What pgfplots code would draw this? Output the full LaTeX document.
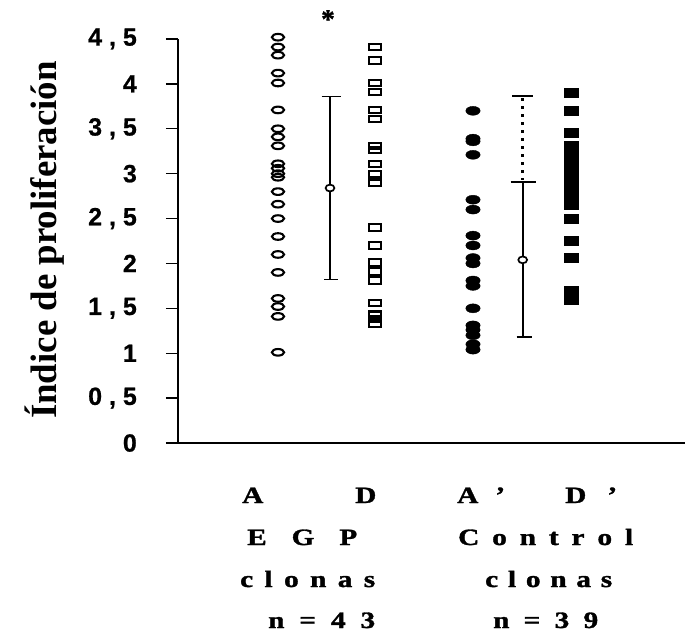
\documentclass[border=0pt]{standalone}
\usepackage{fontspec}
\setmainfont{Liberation Serif}
\newfontfamily\heavyserif{Liberation Serif Bold}[FakeBold=1.3]
\newfontfamily\heavysans{Liberation Sans Bold}[FakeBold=0.8]
\usepackage{pgfplots}
\pgfplotsset{compat=1.18}
\newcommand{\cs}{\hspace{0.28em}}
\newcommand{\sx}[2]{\scalebox{1.25}[1]{\makebox[#1][s]{#2}}}
\begin{document}
\begin{tikzpicture}
\path[use as bounding box] (-178bp,-195bp) rectangle (518bp,443bp);
\begin{axis}[
  at={(0,0)}, anchor=south west,
  scale only axis, width=507bp, height=404bp,
  xmin=0, xmax=507, ymin=0, ymax=4.5,
  axis lines=left, axis line style={-, line width=1.3bp},
  xtick=\empty,
  ytick={0,0.5,1,1.5,2,2.5,3,3.5,4,4.5},
  yticklabels={0,{0\cs,\cs5},1,{1\cs,\cs5},2,{2\cs,\cs5},3,{3\cs,\cs5},4,{4\cs,\cs5}},
  tick align=outside, major tick length=12bp,
  tick style={line width=1.3bp, black},
  yticklabel style={font=\heavysans\fontsize{25}{25}\selectfont, anchor=east, inner sep=0pt, xshift=-29bp},
  clip=false,
]
% EGP A (open circles)
\addplot[only marks, mark=o, mark size=3.3bp, mark options={xscale=1.85, line width=2.1bp}] coordinates {
(100,4.52)(100,4.41)(100,4.32)(100,4.12)(100,4.01)(100,3.71)(100,3.50)(100,3.41)(100,3.31)
(100,3.11)(100,3.06)(100,3.00)(100,2.96)(100,2.80)(100,2.66)(100,2.50)(100,2.30)(100,2.10)
(100,1.90)(100,1.61)(100,1.52)(100,1.41)(100,1.01)};
% EGP D (open squares)
\addplot[only marks, mark=square, mark size=3.1bp, mark options={xscale=1.95, line width=2.1bp}] coordinates {
(197,4.41)(197,4.26)(197,4.01)(197,3.91)(197,3.71)(197,3.61)(197,3.31)(197,3.26)(197,3.11)
(197,3.00)(197,2.90)(197,2.40)(197,2.20)(197,2.01)(197,1.91)(197,1.81)(197,1.56)(197,1.43)
(197,1.38)(197,1.33)};
% Control A' (filled circles)
\addplot[only marks, mark=*, mark size=4.5bp, mark options={xscale=1.6, fill=black, draw=black}] coordinates {
(295,3.70)(295,3.39)(295,3.36)(295,3.21)(295,2.71)(295,2.60)(295,2.31)(295,2.20)(295,2.06)
(295,2.00)(295,1.81)(295,1.75)(295,1.50)(295,1.31)(295,1.26)(295,1.20)(295,1.10)(295,1.04)};
% Control D' (filled squares)
\addplot[only marks, mark=square*, mark size=4.5bp, mark options={xscale=1.6, fill=black, draw=black}] coordinates {
(393,3.90)(393,3.70)(393,3.46)(393,3.31)(393,3.28)(393,3.24)(393,3.19)(393,3.16)(393,3.05)
(393,3.02)(393,2.95)(393,2.87)(393,2.78)(393,2.72)(393,2.65)(393,2.50)(393,2.25)(393,2.06)
(393,1.70)(393,1.65)(393,1.60)};
% error bar EGP
\addplot[line width=1.7bp] coordinates {(152,1.82)(152,3.86)};
\addplot[line width=1.7bp] coordinates {(143.7,3.86)(162.7,3.86)};
\addplot[line width=1.7bp] coordinates {(146.3,1.82)(159.7,1.82)};
\addplot[only marks, mark=*, mark size=3.4bp, mark options={xscale=1.3, fill=white, draw=black, line width=1.7bp}] coordinates {(152,2.84)};
% error bar Control
\addplot[line width=3bp, dash pattern=on 3bp off 5bp] coordinates {(344.7,3.84)(344.7,2.93)};
\addplot[line width=1.7bp] coordinates {(344.7,1.18)(344.7,2.91)};
\addplot[line width=1.7bp] coordinates {(334,3.865)(355.3,3.865)};
\addplot[line width=1.7bp] coordinates {(332.7,2.91)(357.7,2.91)};
\addplot[line width=1.7bp] coordinates {(338.7,1.18)(354.3,1.18)};
\addplot[only marks, mark=*, mark size=3.4bp, mark options={xscale=1.3, fill=white, draw=black, line width=1.7bp}] coordinates {(344.7,2.04)};
\end{axis}
% star
\node[anchor=base, inner sep=0pt, font=\heavyserif\fontsize{27}{27}\selectfont] at (150bp,415bp) {*};
% y label
\node[rotate=90, anchor=base, inner sep=0pt, font=\bfseries\fontsize{37}{37}\selectfont] at (-121bp,203bp) {Índice de proliferación};
% category labels
\begin{scope}[every node/.style={anchor=base west, inner sep=0pt, font=\heavyserif\fontsize{23.5}{23.5}\selectfont}]
\node at (64bp,-60bp) {\scalebox{1.25}[1]{A}};
\node at (177bp,-60bp) {\scalebox{1.25}[1]{D}};
\node at (279bp,-60bp) {\sx{38.4bp}{A\hfill ’}};
\node at (387bp,-60bp) {\sx{41.6bp}{D\hfill ’}};
\node at (69bp,-102bp) {\sx{88bp}{E\hfill G\hfill P}};
\node at (280bp,-102bp) {\sx{140bp}{C\hfill o\hfill n\hfill t\hfill r\hfill o\hfill l}};
\node at (62bp,-144bp) {\sx{108bp}{c\hfill l\hfill o\hfill n\hfill a\hfill s}};
\node at (307bp,-144bp) {\sx{101.6bp}{c\hfill l\hfill o\hfill n\hfill a\hfill s}};
\node at (90bp,-185bp) {\sx{85.6bp}{n\hfill =\hfill 4\hfill 3}};
\node at (315bp,-185bp) {\sx{84bp}{n\hfill =\hfill 3\hfill 9}};
\end{scope}
\end{tikzpicture}
\end{document}
